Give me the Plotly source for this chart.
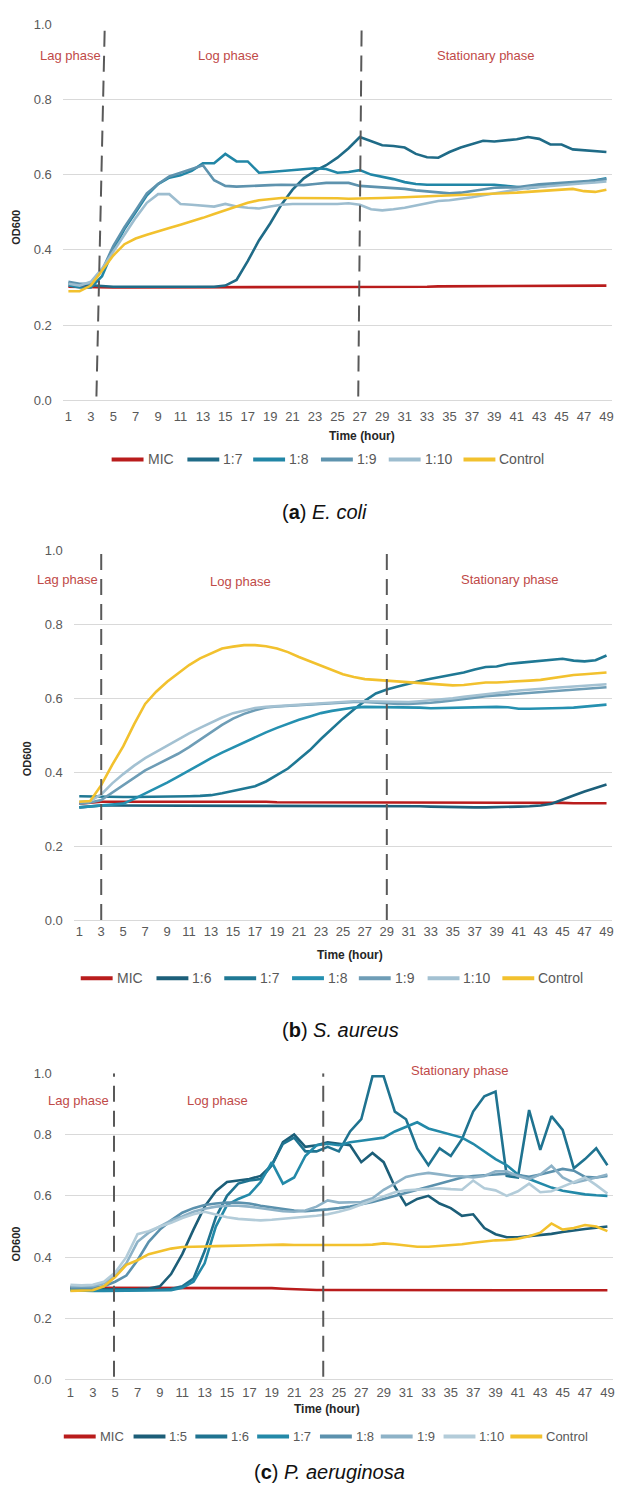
import plotly.graph_objects as go

W, H = 617, 1500
HOURS = list(range(1, 50))
TICKS = list(range(1, 50, 2))

# ---------------- (a) E. coli ----------------
A_MIC = [0.302,0.301,0.301,0.301,0.300,0.300,0.300,0.300,0.300,0.300,
         0.300,0.300,0.300,0.300,0.300,0.301,0.301,0.301,0.301,0.301,
         0.302,0.302,0.302,0.302,0.302,0.302,0.302,0.302,0.302,0.302,
         0.302,0.302,0.302,0.303,0.303,0.303,0.304,0.304,0.304,0.304,
         0.305,0.305,0.305,0.305,0.305,0.305,0.305,0.305,0.305]
A_17 = [0.310,0.308,0.305,0.303,0.302,0.302,0.302,0.302,0.302,0.302,
        0.302,0.301,0.301,0.302,0.305,0.320,0.370,0.425,0.470,0.520,
        0.560,0.590,0.610,0.625,0.645,0.670,0.700,0.690,0.678,0.676,
        0.672,0.655,0.646,0.645,0.660,0.672,0.680,0.690,0.688,0.690,
        0.694,0.700,0.695,0.680,0.680,0.667,0.665,0.662,0.660]
A_18 = [0.305,0.300,0.300,0.330,0.400,0.455,0.500,0.545,0.575,0.592,
        0.598,0.610,0.630,0.630,0.655,0.635,0.635,0.605,0.607,0.610,
        0.613,0.615,0.617,0.615,0.605,0.607,0.612,0.600,0.595,0.588,
        0.580,0.575,0.573,0.573,0.573,0.575,0.575,0.575,0.573,0.570,
        0.566,0.564,0.568,0.572,0.575,0.578,0.580,0.585,0.590]
A_19 = [0.315,0.310,0.310,0.345,0.410,0.460,0.505,0.550,0.575,0.595,
        0.605,0.615,0.625,0.585,0.570,0.568,0.570,0.572,0.572,0.573,
        0.573,0.572,0.575,0.578,0.578,0.578,0.570,0.568,0.566,0.565,
        0.562,0.558,0.555,0.552,0.550,0.552,0.556,0.562,0.565,0.566,
        0.566,0.570,0.574,0.576,0.578,0.580,0.580,0.584,0.588]
A_110 = [0.310,0.305,0.315,0.350,0.395,0.440,0.485,0.525,0.548,0.548,
         0.522,0.520,0.518,0.515,0.522,0.515,0.512,0.510,0.515,0.520,
         0.522,0.522,0.521,0.522,0.522,0.524,0.520,0.508,0.505,0.508,
         0.512,0.518,0.525,0.530,0.532,0.535,0.540,0.545,0.550,0.555,
         0.560,0.565,0.567,0.570,0.572,0.575,0.577,0.579,0.582]
A_CTRL = [0.290,0.290,0.305,0.345,0.385,0.415,0.430,0.440,0.448,0.458,
          0.467,0.475,0.485,0.495,0.505,0.515,0.525,0.532,0.536,0.538,
          0.538,0.538,0.538,0.537,0.537,0.536,0.536,0.537,0.538,0.540,
          0.540,0.541,0.542,0.543,0.544,0.545,0.547,0.548,0.549,0.550,
          0.552,0.554,0.556,0.558,0.560,0.562,0.556,0.554,0.560]

# ---------------- (b) S. aureus ----------------
B_MIC = [0.315,0.318,0.320,0.320,0.320,0.320,0.320,0.320,0.320,0.320,
         0.320,0.320,0.321,0.322,0.322,0.321,0.320,0.320,0.319,0.319,
         0.319,0.318,0.318,0.318,0.318,0.318,0.318,0.318,0.318,0.318,
         0.318,0.318,0.318,0.317,0.317,0.317,0.317,0.317,0.317,0.317,
         0.317,0.317,0.317,0.317,0.317,0.316,0.316,0.316,0.316]
B_16 = [0.305,0.308,0.310,0.310,0.310,0.310,0.310,0.310,0.310,0.310,
        0.310,0.310,0.310,0.310,0.310,0.310,0.310,0.310,0.310,0.310,
        0.310,0.310,0.310,0.310,0.310,0.310,0.310,0.310,0.310,0.310,
        0.309,0.308,0.307,0.306,0.305,0.305,0.305,0.305,0.305,0.306,
        0.307,0.308,0.310,0.315,0.325,0.337,0.348,0.357,0.367]
B_17 = [0.335,0.334,0.333,0.333,0.333,0.333,0.333,0.333,0.333,0.334,
        0.335,0.336,0.338,0.343,0.350,0.355,0.362,0.375,0.392,0.410,
        0.435,0.460,0.490,0.518,0.545,0.570,0.593,0.613,0.624,0.632,
        0.640,0.647,0.653,0.658,0.663,0.670,0.678,0.685,0.686,0.693,
        0.696,0.699,0.702,0.704,0.707,0.702,0.700,0.703,0.716]
B_18 = [0.305,0.308,0.310,0.312,0.315,0.328,0.342,0.357,0.372,0.388,
        0.405,0.422,0.438,0.453,0.467,0.481,0.495,0.508,0.520,0.532,
        0.542,0.551,0.560,0.566,0.571,0.575,0.577,0.577,0.577,0.576,
        0.576,0.575,0.573,0.574,0.575,0.576,0.576,0.577,0.577,0.576,
        0.572,0.572,0.572,0.573,0.574,0.575,0.577,0.580,0.583]
B_19 = [0.315,0.318,0.325,0.345,0.365,0.385,0.405,0.420,0.435,0.450,
        0.468,0.488,0.508,0.528,0.545,0.558,0.568,0.575,0.578,0.580,
        0.582,0.584,0.586,0.588,0.589,0.590,0.590,0.588,0.586,0.585,
        0.585,0.586,0.588,0.591,0.594,0.598,0.602,0.606,0.608,0.611,
        0.614,0.616,0.618,0.620,0.622,0.624,0.626,0.628,0.630]
B_110 = [0.320,0.322,0.340,0.370,0.395,0.418,0.438,0.455,0.472,0.488,
         0.505,0.520,0.535,0.548,0.560,0.568,0.574,0.577,0.579,0.581,
         0.583,0.586,0.588,0.590,0.591,0.592,0.592,0.591,0.590,0.589,
         0.590,0.592,0.594,0.597,0.600,0.604,0.608,0.612,0.615,0.618,
         0.621,0.624,0.626,0.628,0.630,0.632,0.634,0.636,0.638]
B_CTRL = [0.320,0.322,0.365,0.420,0.470,0.530,0.585,0.618,0.645,0.668,
          0.690,0.708,0.722,0.735,0.740,0.744,0.744,0.741,0.735,0.725,
          0.712,0.700,0.690,0.678,0.665,0.658,0.652,0.650,0.648,0.647,
          0.645,0.643,0.640,0.637,0.635,0.636,0.640,0.643,0.643,0.644,
          0.645,0.648,0.650,0.655,0.660,0.663,0.665,0.667,0.670]

# ---------------- (c) P. aeruginosa ----------------
C_MIC = [0.300,0.300,0.300,0.300,0.300,0.300,0.300,0.300,0.300,0.300,
         0.300,0.300,0.300,0.300,0.300,0.300,0.300,0.300,0.299,0.297,
         0.295,0.294,0.293,0.293,0.293,0.293,0.293,0.293,0.293,0.293,
         0.293,0.293,0.293,0.293,0.293,0.293,0.293,0.293,0.293,0.293,
         0.293,0.293,0.293,0.293,0.293,0.293,0.292,0.292,0.292]
C_15 = [0.300,0.298,0.296,0.295,0.295,0.295,0.296,0.298,0.305,0.345,
        0.410,0.490,0.565,0.615,0.645,0.650,0.655,0.665,0.700,0.775,
        0.800,0.760,0.765,0.775,0.770,0.765,0.710,0.740,0.710,0.630,
        0.570,0.590,0.600,0.575,0.560,0.535,0.540,0.495,0.475,0.465,
        0.465,0.468,0.472,0.476,0.482,0.488,0.492,0.496,0.500]
C_16 = [0.295,0.293,0.292,0.292,0.292,0.292,0.292,0.293,0.294,0.296,
        0.305,0.330,0.420,0.530,0.600,0.640,0.650,0.655,0.700,0.770,
        0.790,0.745,0.745,0.760,0.745,0.810,0.850,0.990,0.990,0.875,
        0.850,0.755,0.700,0.755,0.730,0.785,0.875,0.925,0.940,0.665,
        0.660,0.880,0.750,0.860,0.815,0.690,0.720,0.755,0.700]
C_17 = [0.292,0.290,0.290,0.290,0.290,0.290,0.290,0.290,0.291,0.292,
        0.300,0.320,0.380,0.500,0.570,0.590,0.605,0.645,0.710,0.640,
        0.660,0.730,0.765,0.770,0.765,0.775,0.780,0.785,0.790,0.810,
        0.825,0.840,0.820,0.810,0.800,0.790,0.770,0.745,0.720,0.700,
        0.670,0.655,0.640,0.627,0.617,0.610,0.605,0.602,0.600]
C_18 = [0.300,0.300,0.300,0.305,0.320,0.340,0.390,0.450,0.490,0.520,
        0.545,0.560,0.570,0.575,0.578,0.578,0.575,0.568,0.562,0.556,
        0.552,0.550,0.552,0.556,0.560,0.565,0.573,0.580,0.590,0.600,
        0.612,0.622,0.632,0.642,0.652,0.660,0.665,0.668,0.670,0.672,
        0.668,0.662,0.670,0.680,0.688,0.682,0.662,0.660,0.665]
C_19 = [0.305,0.305,0.305,0.315,0.340,0.380,0.450,0.480,0.500,0.520,
        0.533,0.548,0.558,0.565,0.568,0.568,0.565,0.560,0.555,0.550,
        0.548,0.552,0.565,0.585,0.578,0.578,0.580,0.592,0.620,0.640,
        0.662,0.670,0.675,0.670,0.665,0.664,0.660,0.665,0.680,0.680,
        0.665,0.655,0.670,0.698,0.660,0.642,0.650,0.660,0.670]
C_110 = [0.310,0.308,0.310,0.320,0.350,0.400,0.475,0.485,0.500,0.512,
         0.528,0.540,0.548,0.540,0.530,0.525,0.522,0.520,0.522,0.526,
         0.530,0.532,0.535,0.540,0.548,0.558,0.572,0.585,0.598,0.612,
         0.618,0.620,0.622,0.625,0.622,0.620,0.650,0.625,0.618,0.600,
         0.615,0.640,0.612,0.615,0.630,0.645,0.660,0.635,0.608]
C_CTRL = [0.290,0.290,0.292,0.305,0.335,0.375,0.390,0.410,0.420,0.428,
          0.433,0.435,0.435,0.436,0.437,0.438,0.440,0.440,0.441,0.441,
          0.440,0.440,0.439,0.438,0.438,0.439,0.440,0.441,0.445,0.442,
          0.438,0.434,0.434,0.436,0.438,0.442,0.447,0.452,0.455,0.456,
          0.460,0.468,0.480,0.510,0.490,0.495,0.505,0.500,0.485]

RED = "#B91C1C"
GOLD = "#F2C12E"
panels = [
    dict(series=[("MIC", A_MIC, RED), ("1:7", A_17, "#1F6B87"), ("1:8", A_18, "#2186A6"),
                 ("1:9", A_19, "#5E93AE"), ("1:10", A_110, "#9DBDCF"), ("Control", A_CTRL, GOLD)],
         xdom=(63, 614), ydom=(397.3, 17.3), legend_y=457,
         legend_x=[112, 188, 254, 322, 390, 465], legend_font=14,
         xstand=7, ystand=10,
         dividers=[(3.50, 0.01, 4.24, 0.99), (26.86, 0.01, 27.16, 0.99)],
         phases=[("Lag phase", 71, 49), ("Log phase", 229, 49), ("Stationary phase", 488, 49)],
         time=(363, 433), od=(16, 222),
         caption=("(<b>a</b>) <i>E. coli</i>", 326, 510)),
    dict(series=[("MIC", B_MIC, RED), ("1:6", B_16, "#1C5F7A"), ("1:7", B_17, "#1F7894"),
                 ("1:8", B_18, "#2590B0"), ("1:9", B_19, "#6E9DB6"), ("1:10", B_110, "#A3C1D2"),
                 ("Control", B_CTRL, GOLD)],
         xdom=(74, 614), ydom=(922.3, 549), legend_y=981,
         legend_x=[81, 157, 225, 293, 360, 429, 504], legend_font=14,
         xstand=2, ystand=10,
         dividers=[(3, 0.0, 3, 1.0), (29, 0.0, 29, 1.0)],
         phases=[("Lag phase", 68, 578), ("Log phase", 241, 580), ("Stationary phase", 512, 578)],
         time=(351, 958), od=(27, 759),
         caption=("(<b>b</b>) <i>S. aureus</i>", 342, 1033)),
    dict(series=[("MIC", C_MIC, RED), ("1:5", C_15, "#1C5E78"), ("1:6", C_16, "#1F7390"),
                 ("1:7", C_17, "#2389A8"), ("1:8", C_18, "#5B91AD"), ("1:9", C_19, "#8DB2C7"),
                 ("1:10", C_110, "#B3CCD9"), ("Control", C_CTRL, GOLD)],
         xdom=(65, 615), ydom=(1386.7, 1077), legend_y=1444,
         legend_x=[64, 134, 196, 258, 321, 382, 445, 512], legend_font=13,
         xstand=3, ystand=12,
         dividers=[(4.9, 0.01, 4.9, 1.0), (23.6, 0.01, 23.6, 1.0)],
         phases=[("Lag phase", 79, 1105), ("Log phase", 218, 1105), ("Stationary phase", 461, 1074)],
         time=(328, 1416), od=(16, 1249),
         caption=("(<b>c</b>) <i>P. aeruginosa</i>", 331, 1480)),
]

def px_x(p):
    return p / W

def px_y(p):
    return 1 - p / H

fig = go.Figure()
annotations = []
shapes = []
layout = {}
GRID = "#D9D9D9"
TICKC = "#595959"
NARROW = "Liberation Sans Narrow, Liberation Sans, Arial"
SWATCH = 32

for i, p in enumerate(panels, start=1):
    sfx = "" if i == 1 else str(i)
    for name, vals, col in p["series"]:
        fig.add_trace(go.Scatter(x=HOURS, y=vals, name=name, mode="lines",
                                 line=dict(color=col, width=2.6), showlegend=False,
                                 xaxis=f"x{sfx}", yaxis=f"y{sfx}"))
    layout[f"xaxis{sfx}"] = dict(
        domain=[px_x(p["xdom"][0]), px_x(p["xdom"][1])], anchor=f"y{sfx}",
        range=[0.5, 49.5], tickmode="array", tickvals=TICKS, ticks="",
        showgrid=False, zeroline=False, showline=False,
        tickfont=dict(size=13, color=TICKC), ticklabelstandoff=p["xstand"])
    layout[f"yaxis{sfx}"] = dict(
        domain=[px_y(p["ydom"][0]), px_y(p["ydom"][1])], anchor=f"x{sfx}",
        range=[0, 1.0], tickmode="array", tickvals=[0, 0.2, 0.4, 0.6, 0.8, 1.0],
        tickformat=".1f", ticks="", showgrid=True, gridcolor=GRID, gridwidth=1,
        zeroline=True, zerolinecolor=GRID, zerolinewidth=1, showline=False,
        tickfont=dict(size=13, color=TICKC), ticklabelstandoff=p["ystand"])
    # legend row (swatch line + label for each series)
    ly = px_y(p["legend_y"])
    for (name, vals, col), lx in zip(p["series"], p["legend_x"]):
        shapes.append(dict(type="line", xref="paper", yref="paper",
                           x0=px_x(lx), x1=px_x(lx + SWATCH), y0=ly, y1=ly,
                           line=dict(color=col, width=4)))
        annotations.append(dict(text=name, x=px_x(lx + SWATCH + 2), y=ly,
                                xref="paper", yref="paper", showarrow=False,
                                xanchor="left", yanchor="middle",
                                font=dict(size=p["legend_font"], color=TICKC)))
    for (x0, y0, x1, y1) in p["dividers"]:
        shapes.append(dict(type="line", xref=f"x{sfx}", yref=f"y{sfx}",
                           x0=x0, y0=y0, x1=x1, y1=y1,
                           line=dict(color="#595959", width=2, dash="16px,9px")))
    for txt, px, py in p["phases"]:
        annotations.append(dict(text=txt, x=px_x(px), y=px_y(py), xref="paper", yref="paper",
                                showarrow=False, xanchor="center", yanchor="middle",
                                font=dict(size=13, color="#BF4A48", family=NARROW)))
    annotations.append(dict(text="<b>Time (hour)</b>", x=px_x(p["time"][0]), y=px_y(p["time"][1]),
                            xref="paper", yref="paper", showarrow=False,
                            xanchor="center", yanchor="middle",
                            font=dict(size=12, color="#262626", family=NARROW)))
    annotations.append(dict(text="<b>OD600</b>", x=px_x(p["od"][0]), y=px_y(p["od"][1]),
                            xref="paper", yref="paper", showarrow=False, textangle=-90,
                            xanchor="center", yanchor="middle",
                            font=dict(size=11, color="#262626", family="Liberation Sans, Arial")))
    cap, cx, cy = p["caption"]
    annotations.append(dict(text=cap, x=px_x(cx), y=px_y(cy), xref="paper", yref="paper",
                            showarrow=False, xanchor="center", yanchor="middle",
                            font=dict(size=20, color="#111111", family="Liberation Sans, Arial")))

fig.update_layout(width=W, height=H, margin=dict(l=0, r=0, t=0, b=0),
                  paper_bgcolor="white", plot_bgcolor="white", showlegend=False,
                  font=dict(family="Liberation Sans, Arial", color=TICKC),
                  annotations=annotations, shapes=shapes, **layout)

fig.write_html("out.html")
